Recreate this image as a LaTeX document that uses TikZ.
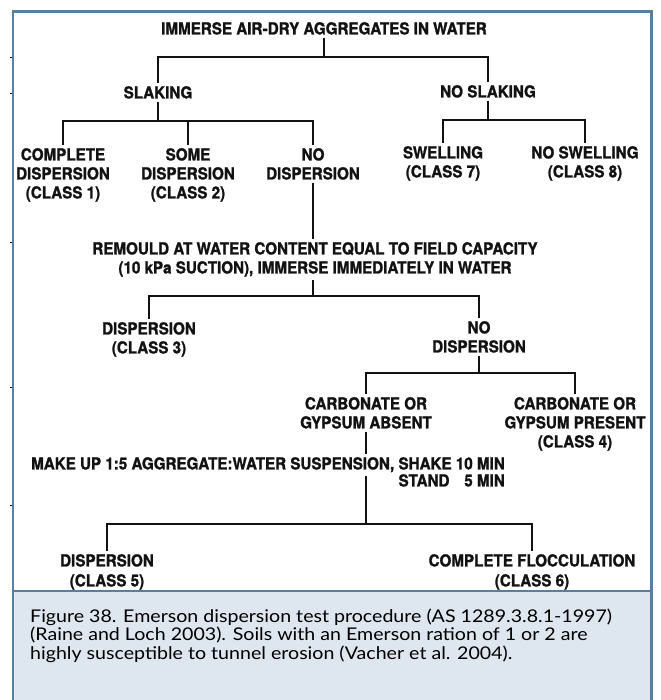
\documentclass[tikz,border=0pt]{standalone}
\usepackage{fontspec}
\newfontfamily\diagfont[FakeStretch=0.92, BoldFeatures={FakeBold=1.3}]{TeX Gyre Heros}
\newfontfamily\capfont[FakeStretch=1.12]{Lato}
\definecolor{framecol}{RGB}{88,126,160}
\definecolor{capfill}{RGB}{222,230,239}
\definecolor{inkcol}{RGB}{18,18,18}
\begin{document}
\begin{tikzpicture}[x=1pt,y=-1pt,
  lbl/.style={font=\diagfont\bfseries\fontsize{16.5}{19}\selectfont, align=center,
    inner xsep=2pt, inner ysep=3pt, text=inkcol, anchor=north},
  conn/.style={draw=inkcol, line width=1.8pt},
  captext/.style={font=\capfont\fontsize{17.5}{18}\selectfont, anchor=base west, inner sep=0pt, text=black},
  tickmark/.style={draw=black, line width=0.8pt}]
\useasboundingbox (0,0) rectangle (660,700);
\begin{scope}
\clip (0,0) rectangle (660,700);
\fill[white] (0,0) rectangle (660,700);
\fill[capfill] (13,591) rectangle (651.5,720);
\draw[framecol, line width=2.5pt] (13,11.5) rectangle (651.5,720);
\draw[framecol, line width=2.5pt] (13,591) -- (651.5,591);
\end{scope}
% small marks outside the frame
\foreach \yy in {57,93,242,387,505} \draw[tickmark] (10,\yy) -- (12,\yy);

% nodes
\node[lbl] (top) at (324,19) {IMMERSE AIR-DRY AGGREGATES IN WATER};
\node[lbl] (slak) at (158,83) {SLAKING};
\node[lbl] (noslak) at (488,82) {NO SLAKING};
\node[lbl] (c1) at (63,145) {COMPLETE\\DISPERSION\\(CLASS 1)};
\node[lbl] (c2) at (188,145) {SOME\\DISPERSION\\(CLASS 2)};
\node[lbl] (nd1) at (313,145) {NO\\DISPERSION};
\node[lbl] (c7) at (443,143) {SWELLING\\(CLASS 7)};
\node[lbl] (c8) at (585,143) {NO SWELLING\\(CLASS 8)};
\node[lbl] (rem) at (315,239) {REMOULD AT WATER CONTENT EQUAL TO FIELD CAPACITY\\(10 kPa SUCTION), IMMERSE IMMEDIATELY IN WATER};
\node[lbl] (c3) at (149,319) {DISPERSION\\(CLASS 3)};
\node[lbl] (nd2) at (479,318) {NO\\DISPERSION};
\node[lbl] (abs) at (366,394) {CARBONATE OR\\GYPSUM ABSENT};
\node[lbl] (c4) at (575,394) {CARBONATE OR\\GYPSUM PRESENT\\(CLASS 4)};
\node[lbl, anchor=north east] (make) at (507,454) {MAKE UP 1:5 AGGREGATE:WATER SUSPENSION, SHAKE 10 MIN};
\node[lbl, anchor=north east] (stand) at (507,471) {STAND\hspace{0.9em}5 MIN};
\node[lbl, font=\diagfont\bfseries\fontsize{16.5}{20}\selectfont] (c5) at (107,551) {DISPERSION\\(CLASS 5)};
\node[lbl, font=\diagfont\bfseries\fontsize{16.5}{20}\selectfont] (c6) at (532,551) {COMPLETE FLOCCULATION\\(CLASS 6)};

% bar levels
\coordinate (b1) at (0,57);
\coordinate (b2) at (0,121);
\coordinate (b3) at (0,120);
\coordinate (b4) at (0,296);
\coordinate (b5) at (0,373);
\coordinate (b6) at (0,524);

% connectors
\draw[conn] (top.south) -- (top.south |- b1);
\draw[conn] (slak.north) -- (slak.north |- b1) -- (noslak.north |- b1) -- (noslak.north);

\draw[conn] (slak.south) -- (slak.south |- b2);
\draw[conn] (c1.north) -- (c1.north |- b2) -- (nd1.north |- b2) -- (nd1.north);
\draw[conn] (c2.north) -- (c2.north |- b2);

\draw[conn] (noslak.south) -- (noslak.south |- b3);
\draw[conn] (c7.north) -- (c7.north |- b3) -- (c8.north |- b3) -- (c8.north);

\draw[conn] (nd1.south) -- (nd1.south |- rem.north);

\draw[conn] (nd1.south |- rem.south) -- (nd1.south |- b4);
\draw[conn] (c3.north) -- (c3.north |- b4) -- (nd2.north |- b4) -- (nd2.north);

\draw[conn] (nd2.south) -- (nd2.south |- b5);
\draw[conn] (abs.north) -- (abs.north |- b5) -- (c4.north |- b5) -- (c4.north);

\draw[conn] (abs.south) -- (abs.south |- make.north);
\draw[conn] (abs.south |- make.south) -- (abs.south |- b6);
\draw[conn] (c5.north) -- (c5.north |- b6) -- (c6.north |- b6) -- (c6.north);

% caption
\node[captext] (cap1) at (30,622) {Figure 38. Emerson dispersion test procedure (AS 1289.3.8.1-1997)};
\node[captext] (cap2) at (30,640.5) {(Raine and Loch 2003). Soils with an Emerson ration of 1 or 2 are};
\node[captext] (cap3) at (30,659) {highly susceptible to tunnel erosion (Vacher et al. 2004).};
\end{tikzpicture}
\end{document}
